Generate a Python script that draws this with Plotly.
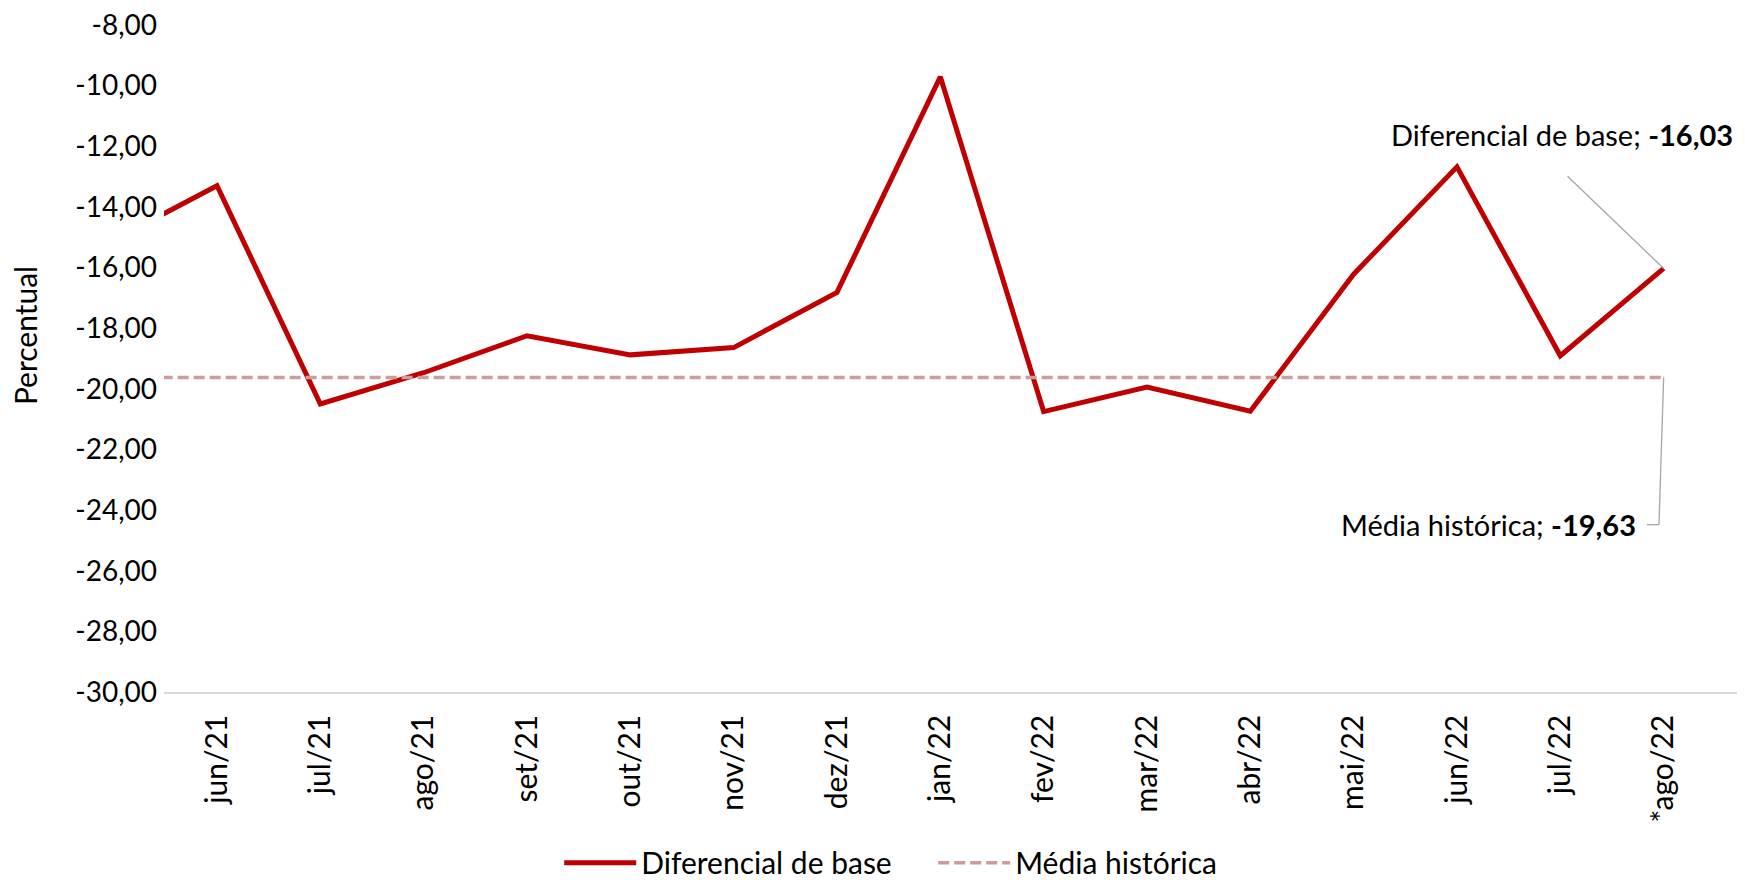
import plotly.graph_objects as go

# dados
meses = ["mai/21", "jun/21", "jul/21", "ago/21", "set/21", "out/21", "nov/21", "dez/21",
         "jan/22", "fev/22", "mar/22", "abr/22", "mai/22", "jun/22", "jul/22", "*ago/22"]
diferencial = [-15.10, -13.30, -20.50, -19.47, -18.25, -18.88, -18.64, -16.82,
               -9.71, -20.75, -19.94, -20.74, -16.22, -12.68, -18.91, -16.03]
media_historica = -19.63
media = [media_historica] * len(meses)

y_ticks = [-8, -10, -12, -14, -16, -18, -20, -22, -24, -26, -28, -30]
y_ticktext = [f"{v:.2f}".replace(".", ",") for v in y_ticks]

FONT = "Lato, Roboto, sans-serif"
FS = 30


def br(v):
    return f"{v:.2f}".replace(".", ",")


fig = go.Figure()

fig.add_trace(go.Scatter(
    x=meses, y=diferencial, name="Diferencial de base",
    mode="lines", line=dict(color="#C00000", width=5),
))
fig.add_trace(go.Scatter(
    x=meses, y=media, name="Média histórica",
    mode="lines", line=dict(color="rgb(206,156,156)", width=3.5, dash="11px,5px"),
))

last = len(meses) - 1

# linhas de chamada dos rótulos
fig.add_shape(type="line", xref="x", yref="y",
              x0=last - 0.93, y0=-12.99, x1=last, y1=diferencial[-1],
              line=dict(color="#A6A6A6", width=1.3))
fig.add_shape(type="line", xref="x", yref="y",
              x0=last, y0=media_historica, x1=last - 0.045, y1=-24.48,
              line=dict(color="#A6A6A6", width=1.3))
fig.add_shape(type="line", xref="x", yref="y",
              x0=last - 0.045, y0=-24.48, x1=last - 0.16, y1=-24.48,
              line=dict(color="#A6A6A6", width=1.3))

fig.add_annotation(
    text=f"Diferencial de base; <b>{br(diferencial[-1])}</b>",
    xref="paper", yref="y", x=0.999, y=-11.6,
    xanchor="right", yanchor="middle", showarrow=False,
    font=dict(family=FONT, size=29, color="black"),
)
fig.add_annotation(
    text=f"Média histórica; <b>{br(media_historica)}</b>",
    xref="x", yref="y", x=last - 0.25, y=-24.48,
    xanchor="right", yanchor="middle", showarrow=False,
    font=dict(family=FONT, size=29, color="black"),
)
# título do eixo y
fig.add_annotation(
    text="Percentual", textangle=-90,
    xref="paper", yref="paper", x=-0.0884, y=0.535,
    xanchor="center", yanchor="middle", showarrow=False,
    font=dict(family=FONT, size=FS, color="black"),
)

# a página tem 8px de margem no body
fig.update_layout(
    width=1737, height=872,
    margin=dict(l=156, r=8, t=17, b=188, autoexpand=False),
    paper_bgcolor="white", plot_bgcolor="white",
    font=dict(family=FONT, size=FS, color="black"),
    showlegend=True,
    legend=dict(
        orientation="h", x=0.489, xanchor="center", y=-0.256, yanchor="middle",
        font=dict(family=FONT, size=FS, color="black"),
        itemwidth=72, entrywidth=287,
    ),
    xaxis=dict(
        type="category", range=[0.487, 15.71], automargin=False,
        showgrid=False, zeroline=False,
        showline=True, linecolor="#D9D9D9", linewidth=1.5,
        tickangle=-90, ticks="", ticklabelstandoff=9,
        tickfont=dict(family=FONT, size=FS, color="black"),
    ),
    yaxis=dict(
        range=[-30, -8], tickvals=y_ticks, ticktext=y_ticktext, automargin=False,
        showgrid=False, zeroline=False, showline=False,
        ticks="", ticklabelstandoff=6, ticklabeloverflow="allow",
        tickfont=dict(family=FONT, size=28, color="black"),
    ),
)

fig.write_html("out.html")
